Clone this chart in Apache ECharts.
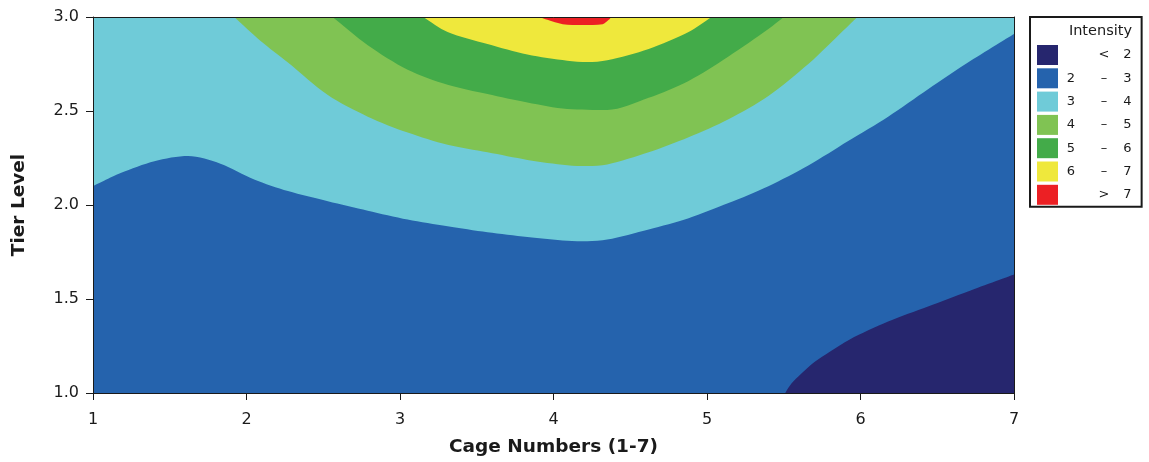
<!DOCTYPE html>
<html>
<head>
<meta charset="utf-8">
<script src="https://cdn.jsdelivr.net/npm/echarts@6/dist/echarts.min.js"></script>
<style>
  html, body { margin: 0; padding: 0; background: #fff; }
  #chart { width: 1149px; height: 462px; }
</style>
</head>
<body>
<div id="chart"></div>
<script>
// ---------- data ----------
// Intensity bands, from lowest to highest
const bandLabels = ['< 2', '2 – 3', '3 – 4', '4 – 5', '5 – 6', '6 – 7', '> 7'];
const bandLow  = [null, 2, 3, 4, 5, 6, 7];
const bandHigh = [2, 3, 4, 5, 6, 7, null];

// Contour lines: [cage number, tier level] where the intensity crosses each level.
const plotBottom = [[1, 1.0], [7, 1.0]];   // base of the plot: everything above is at least level 2
const contour2 = [[5.49, 0.97], [5.51, 1.0], [5.55, 1.05], [5.61, 1.10], [5.70, 1.165], [5.80, 1.22],
  [5.93, 1.285], [6.18, 1.38], [6.44, 1.46], [6.70, 1.54], [7, 1.63]];
const contour3 = [[1, 2.10], [1.18, 2.17], [1.40, 2.233], [1.62, 2.26], [1.83, 2.22], [2.05, 2.136],
  [2.27, 2.074], [2.53, 2.02], [2.79, 1.97], [3.05, 1.923], [3.31, 1.887], [3.57, 1.855],
  [3.83, 1.83], [4.09, 1.81], [4.22, 1.807], [4.35, 1.816], [4.62, 1.87], [4.88, 1.93],
  [5.14, 2.01], [5.40, 2.10], [5.66, 2.21], [5.92, 2.34], [6.18, 2.47], [6.44, 2.616],
  [6.70, 2.758], [7, 2.91]];
const contour4 = [[1.80, 3.09], [1.92, 3.0], [2.09, 2.874], [2.27, 2.758], [2.53, 2.585], [2.79, 2.47],
  [3.05, 2.385], [3.31, 2.32], [3.57, 2.28], [3.83, 2.24], [4.09, 2.212], [4.22, 2.207],
  [4.35, 2.215], [4.62, 2.28], [4.88, 2.36], [5.14, 2.456], [5.40, 2.58], [5.66, 2.75],
  [5.79, 2.85], [5.98, 3.0], [6.10, 3.09]];
const contour5 = [[2.42, 3.09], [2.56, 3.0], [2.79, 2.85], [3.05, 2.72], [3.31, 2.64], [3.57, 2.59],
  [3.83, 2.545], [4.09, 2.51], [4.35, 2.505], [4.62, 2.57], [4.88, 2.66], [5.14, 2.79],
  [5.40, 2.936], [5.50, 3.0], [5.62, 3.077]];
const contour6 = [[3.0, 3.075], [3.15, 3.0], [3.31, 2.92], [3.57, 2.856], [3.83, 2.80], [4.09, 2.767],
  [4.22, 2.76], [4.35, 2.77], [4.62, 2.83], [4.88, 2.92], [5.03, 3.0], [5.18, 3.08]];
const contour7 = [[3.86, 3.02], [3.91, 3.0], [3.96, 2.985], [4.06, 2.962], [4.19, 2.958], [4.32, 2.962],
  [4.36, 2.985], [4.38, 3.0], [4.43, 3.02]];

const xTicks = [1, 2, 3, 4, 5, 6, 7];
const yTicks = [1.0, 1.5, 2.0, 2.5, 3.0];

// ---------- styles ----------
const bandColors = ['#26266e', '#2563ad', '#6fcbd8', '#80c353', '#43ab49', '#efe83c', '#ec2024'];
const FONT = 'DejaVu Sans';
const INK = '#1a1a1a';

const chart = echarts.init(document.getElementById('chart'), null, { renderer: 'canvas' });

// '2 – 3' is drawn first over the whole plot, '< 2' is filled below contour 2,
// every higher band is filled from its lower contour up to the top of the plot.
const bandFills = [
  { band: 1, data: plotBottom, origin: 'end' },
  { band: 0, data: contour2,   origin: 'start' },
  { band: 2, data: contour3,   origin: 'end' },
  { band: 3, data: contour4,   origin: 'end' },
  { band: 4, data: contour5,   origin: 'end' },
  { band: 5, data: contour6,   origin: 'end' },
  { band: 6, data: contour7,   origin: 'end' }
];

const series = bandFills.map(f => ({
  type: 'line',
  name: bandLabels[f.band],
  data: f.data,
  smooth: 0.3,
  symbol: 'none',
  showSymbol: false,
  silent: true,
  lineStyle: { width: 0, color: bandColors[f.band] },
  itemStyle: { color: bandColors[f.band] },
  areaStyle: { color: bandColors[f.band], opacity: 1, origin: f.origin },
  z: 2
}));

const axisLineStyle = { color: INK, width: 1 };
const richBase = { fontFamily: FONT, fontSize: 13, color: INK };

chart.setOption({
  animation: false,
  backgroundColor: '#fff',
  title: {
    text: 'Intensity',
    right: 17,
    top: 24,
    padding: 0,
    textStyle: { fontFamily: FONT, fontSize: 14.5, fontWeight: 'normal', color: INK }
  },
  legend: {
    orient: 'vertical',
    left: 1030,
    top: 17,
    padding: [28, 10, 2, 7],
    itemWidth: 21,
    itemHeight: 20,
    itemGap: 3.3,
    icon: 'rect',
    borderColor: INK,
    borderWidth: 2,
    selectedMode: false,
    data: bandLabels,
    formatter: function (name) {
      const i = bandLabels.indexOf(name);
      const lo = bandLow[i], hi = bandHigh[i];
      if (lo === null) return '{a| }{s| }{b|<}{c|' + hi + '}';
      if (hi === null) return '{a| }{s| }{b|>}{c|' + lo + '}';
      return '{a|' + lo + '}{s| }{b|–}{c|' + hi + '}';
    },
    textStyle: {
      fontFamily: FONT, fontSize: 13, color: INK,
      rich: {
        a: Object.assign({ width: 16, align: 'center' }, richBase),
        s: Object.assign({ width: 12 }, richBase),
        b: Object.assign({ width: 26, align: 'center' }, richBase),
        c: Object.assign({ width: 21, align: 'center' }, richBase)
      }
    }
  },
  grid: { left: 93, right: 135, top: 17, bottom: 69, containLabel: false },
  xAxis: [{
    type: 'value',
    min: xTicks[0],
    max: xTicks[xTicks.length - 1],
    interval: 1,
    position: 'bottom',
    z: 10,
    axisLine: { show: true, onZero: false, lineStyle: axisLineStyle },
    axisTick: { show: true, length: 7, lineStyle: axisLineStyle },
    axisLabel: { fontFamily: FONT, fontSize: 16, color: INK, margin: 19 },
    splitLine: { show: false },
    name: 'Cage Numbers (1-7)',
    nameLocation: 'middle',
    nameGap: 45,
    nameTextStyle: { fontFamily: FONT, fontSize: 18.5, fontWeight: 'bold', color: INK }
  }, {
    type: 'value',
    min: xTicks[0],
    max: xTicks[xTicks.length - 1],
    position: 'top',
    z: 10,
    axisLine: { show: true, onZero: false, lineStyle: axisLineStyle },
    axisTick: { show: false },
    axisLabel: { show: false },
    splitLine: { show: false }
  }],
  yAxis: [{
    type: 'value',
    min: yTicks[0],
    max: yTicks[yTicks.length - 1],
    interval: 0.5,
    position: 'left',
    z: 10,
    axisLine: { show: true, onZero: false, lineStyle: axisLineStyle },
    axisTick: { show: true, length: 7, lineStyle: axisLineStyle },
    axisLabel: { fontFamily: FONT, fontSize: 16, color: INK, margin: 14,
      formatter: v => v.toFixed(1) },
    splitLine: { show: false },
    name: 'Tier Level',
    nameLocation: 'middle',
    nameRotate: 90,
    nameGap: 64,
    nameTextStyle: { fontFamily: FONT, fontSize: 18.5, fontWeight: 'bold', color: INK }
  }, {
    type: 'value',
    min: yTicks[0],
    max: yTicks[yTicks.length - 1],
    position: 'right',
    z: 10,
    axisLine: { show: true, onZero: false, lineStyle: axisLineStyle },
    axisTick: { show: false },
    axisLabel: { show: false },
    splitLine: { show: false }
  }],
  series: series
});
</script>
</body>
</html>
